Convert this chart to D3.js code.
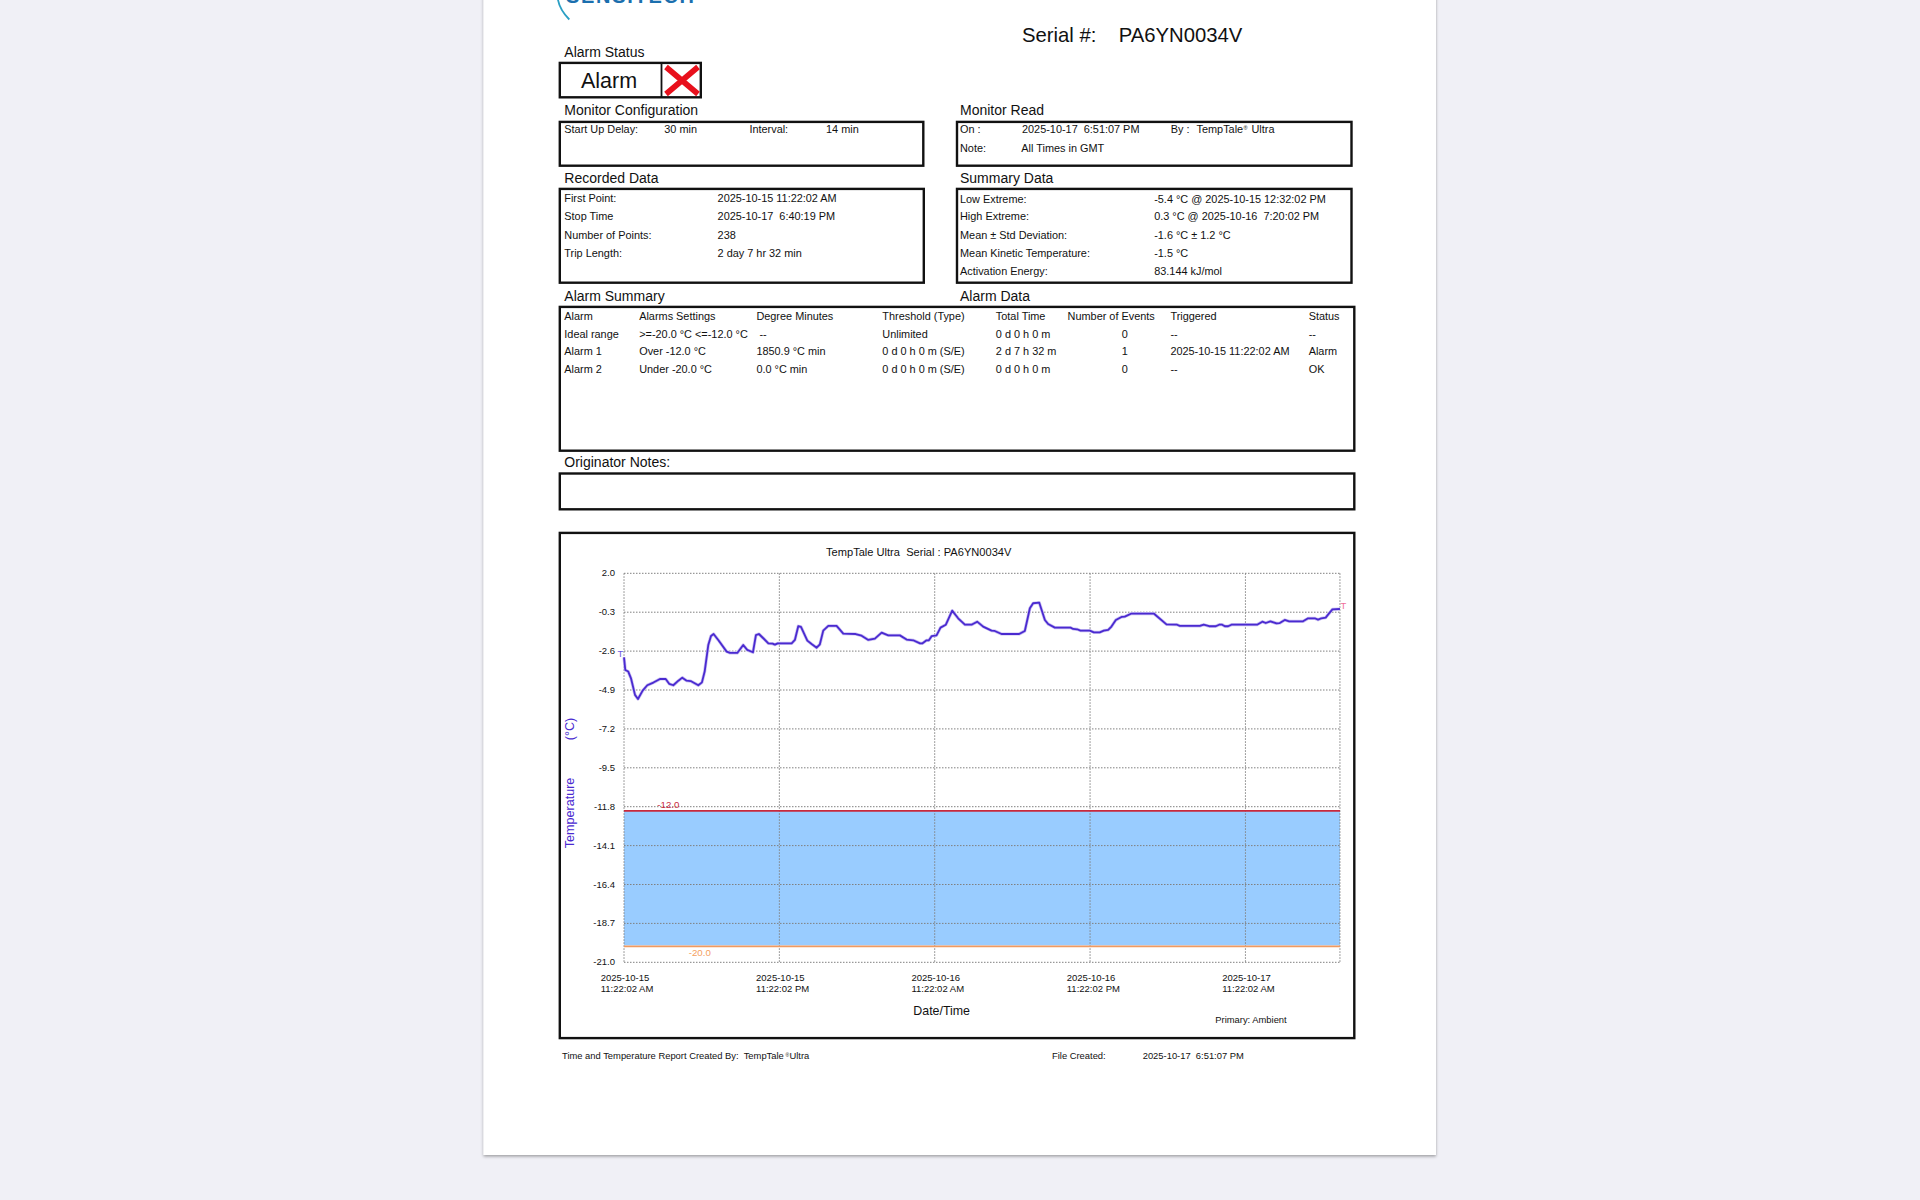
<!DOCTYPE html>
<html><head><meta charset="utf-8">
<script src="https://cdn.jsdelivr.net/npm/d3@7"></script>
<style>html,body{margin:0;padding:0;background:#f0f0f6;overflow:hidden}svg{display:block}text{font-family:"Liberation Sans",Arial,sans-serif;fill:#111}</style>
</head><body><svg id="c" width="1920" height="1200"></svg>
<script>
const startTime = new Date(Date.UTC(2025,9,15,11,22,2));
const stopTime = new Date(Date.UTC(2025,9,17,18,40,19));
const hours = [0,.10,.33,.54,.85,1.08,1.44,1.80,2.27,2.78,3.22,3.50,3.81,4.20,4.50,4.84,5.15,5.74,6.02,6.23,6.51,6.72,6.92,7.28,7.93,8.19,8.75,9.21,9.52,9.96,10.19,10.42,10.76,11.15,11.48,11.66,11.87,12.95,13.20,13.46,13.67,14.16,14.49,14.88,15.13,15.39,15.78,16.42,16.94,17.89,18.35,18.87,19.38,19.90,20.41,21.31,21.83,22.34,22.86,23.06,23.37,23.55,23.76,24.14,24.45,24.86,25.35,25.81,26.33,26.84,27.28,27.74,28.39,28.64,29.16,30.52,30.96,31.35,31.60,32.07,32.51,32.76,33.28,34.49,34.69,35.00,35.26,35.98,36.29,36.75,37.06,37.40,37.65,37.99,38.43,38.68,39.20,40.92,41.90,42.72,42.93,44.48,44.78,45.20,45.71,45.97,46.20,46.41,46.66,46.92,48.90,49.31,49.57,49.93,50.40,50.65,51.04,51.37,52.45,52.84,53.35,53.61,53.87,54.20,54.46,54.72,55.30];
const temps = [-2.97,-3.72,-3.81,-4.21,-5.19,-5.43,-4.94,-4.62,-4.46,-4.25,-4.25,-4.54,-4.62,-4.35,-4.17,-4.35,-4.37,-4.62,-4.45,-3.81,-2.24,-1.71,-1.59,-1.94,-2.63,-2.71,-2.71,-2.24,-2.53,-2.67,-1.65,-1.59,-1.84,-2.14,-2.16,-2.22,-2.14,-2.14,-1.94,-1.13,-1.17,-1.98,-2.18,-2.40,-2.20,-1.39,-1.11,-1.11,-1.57,-1.59,-1.69,-1.94,-1.86,-1.51,-1.67,-1.67,-1.92,-1.96,-2.14,-2.14,-1.96,-1.96,-1.72,-1.67,-1.21,-1.04,-0.21,-0.66,-1.04,-1.04,-0.86,-1.15,-1.39,-1.41,-1.59,-1.59,-1.41,-0.07,0.23,0.27,-0.76,-1.00,-1.21,-1.21,-1.29,-1.31,-1.39,-1.39,-1.49,-1.49,-1.39,-1.35,-1.15,-0.76,-0.58,-0.56,-0.38,-0.38,-1.02,-1.04,-1.11,-1.11,-1.04,-1.13,-1.13,-1.04,-1.04,-1.13,-1.13,-1.04,-1.04,-0.86,-0.94,-0.84,-0.96,-0.94,-0.76,-0.84,-0.84,-0.66,-0.66,-0.74,-0.66,-0.62,-0.37,-0.13,-0.11];
const yTicks = [2.0,-0.3,-2.6,-4.9,-7.2,-9.5,-11.8,-14.1,-16.4,-18.7,-21.0];
const xTickHours = [0,12,24,36,48];
const xTickDates = ["2025-10-15","2025-10-15","2025-10-16","2025-10-16","2025-10-17"];
const xTickTimes = ["11:22:02 AM","11:22:02 PM","11:22:02 AM","11:22:02 PM","11:22:02 AM"];
const alarmHigh = -12.0, alarmLow = -20.0;

const boxes = [[559.8,62.9,141,34.4],[559.8,121.9,363.5,43.8],[957,121.9,394.5,43.8],[559.8,188.9,364,93.8],[957,188.9,394.5,93.8],[559.8,306.9,794.5,143.8],[559.8,473.5,794.5,35.8],[559.8,532.9,794.5,505.2]];
const headings = [["Alarm Status",564.3,56.7],["Monitor Configuration",564.3,115],["Monitor Read",960,115],["Recorded Data",564.3,183],["Summary Data",960,183],["Alarm Summary",564.3,300.7],["Alarm Data",960,300.7],["Originator Notes:",564.3,466.9]];
const small = [
["Start Up Delay:",564.3,133],["30 min",664.3,133],["Interval:",749.4,133],["14 min",826,133],
["On :",960,133],["2025-10-17  6:51:07 PM",1022,133],["By :",1170.8,133],["Note:",960,152],["All Times in GMT",1021.3,152],
["First Point:",564.3,201.9],["2025-10-15 11:22:02 AM",717.6,201.9],["Stop Time",564.3,220],["2025-10-17  6:40:19 PM",717.6,220],["Number of Points:",564.3,238.7],["238",717.6,238.7],["Trip Length:",564.3,257],["2 day 7 hr 32 min",717.6,257],
["Low Extreme:",960,202.7],["-5.4 °C @ 2025-10-15 12:32:02 PM",1154.2,202.7],["High Extreme:",960,220],["0.3 °C @ 2025-10-16  7:20:02 PM",1154.2,220],["Mean ± Std Deviation:",960,238.7],["-1.6 °C ± 1.2 °C",1154.2,238.7],["Mean Kinetic Temperature:",960,257],["-1.5 °C",1154.2,257],["Activation Energy:",960,275],["83.144 kJ/mol",1154.2,275]
];
const colX = [564.3,639.2,756.4,882.3,995.8,1067.6,1170.4,1308.7];
const rowY = [319.9,337.7,355,373];
const tableRows = [
["Alarm","Alarms Settings","Degree Minutes","Threshold (Type)","Total Time","Number of Events","Triggered","Status"],
["Ideal range",">=-20.0 °C <=-12.0 °C"," --","Unlimited","0 d 0 h 0 m","0","--","--"],
["Alarm 1","Over -12.0 °C","1850.9 °C min","0 d 0 h 0 m (S/E)","2 d 7 h 32 m","1","2025-10-15 11:22:02 AM","Alarm"],
["Alarm 2","Under -20.0 °C","0.0 °C min","0 d 0 h 0 m (S/E)","0 d 0 h 0 m","0","--","OK"]
];

const svg = d3.select("#c");
const defs = svg.append("defs");
const f = defs.append("filter").attr("id","sh").attr("x","-5%").attr("y","-5%").attr("width","110%").attr("height","110%");
f.append("feDropShadow").attr("dx",0).attr("dy",1.5).attr("stdDeviation",1.5).attr("flood-color","#000").attr("flood-opacity",.35);
svg.append("rect").attr("x",483.5).attr("y",-10).attr("width",952.5).attr("height",1165).attr("fill","#fff").attr("filter","url(#sh)");

const txt = (g,s,x,y,fs,extra)=>{const t=g.append("text").attr("x",x).attr("y",y).attr("font-size",fs).attr("xml:space","preserve").style("white-space","pre").text(s);if(extra)extra(t);return t;};

svg.selectAll("rect.box").data(boxes).join("rect").attr("class","box")
 .attr("x",d=>d[0]).attr("y",d=>d[1]).attr("width",d=>d[2]).attr("height",d=>d[3])
 .attr("fill","none").attr("stroke","#111").attr("stroke-width",2.4);
svg.append("line").attr("x1",661.5).attr("x2",661.5).attr("y1",62.9).attr("y2",97.3).attr("stroke","#111").attr("stroke-width",1.8);

const page = svg.append("g");
txt(page,"Serial #:",1022,41.7,20.3);
txt(page,"PA6YN0034V",1118.7,41.7,20.3);
txt(page,"Alarm",581,88.3,21.5);
page.append("path").attr("d","M666 67 L698 94 M698 67 L666 94").attr("stroke","#e8101c").attr("stroke-width",5.6).attr("fill","none");
headings.forEach(h=>txt(page,h[0],h[1],h[2],14));
small.forEach(s=>txt(page,s[0],s[1],s[2],10.9));
txt(page,"TempTale",1196.5,133,10.9);
page.append("text").attr("x",1243.5).attr("y",129.5).attr("font-size",5.5).text("®");
txt(page,"Ultra",1251.5,133,10.9);
tableRows.forEach((r,i)=>r.forEach((c,j)=>{
  const t=txt(page,c,colX[j],rowY[i],10.9);
  if(j===5&&i>0) t.attr("x",1124.8).attr("text-anchor","middle");
}));

// logo fragment
page.append("path").attr("d","M557.7 -2 Q559 9 569.3 19.5").attr("fill","none").attr("stroke","#2a9fc4").attr("stroke-width",1.8);
txt(page,"SENSITECH",566,3,20,t=>t.attr("font-weight","bold").attr("textLength",128).style("fill","#1b6fae"));

// chart
const x = d3.scaleTime().domain([startTime,stopTime]).range([624,1340]);
const y = d3.scaleLinear().domain([-21,2]).range([962.3,573.3]);
const toDate = h=>new Date(startTime.getTime()+h*3600000);
const data = hours.map((h,i)=>({t:toDate(h),v:temps[i]}));

svg.append("rect").attr("x",x.range()[0]).attr("width",716).attr("y",y(alarmHigh)).attr("height",y(alarmLow)-y(alarmHigh)).attr("fill","#99ccff");

const grid = svg.append("g").attr("stroke","#808080").attr("stroke-width",1).attr("stroke-dasharray","1.5 1.5").attr("fill","none");
grid.selectAll("line.h").data(yTicks).join("line").attr("class","h").attr("x1",624).attr("x2",1340).attr("y1",d=>y(d)).attr("y2",d=>y(d));
grid.selectAll("line.v").data(xTickHours.concat([55.3])).join("line").attr("class","v").attr("x1",d=>x(toDate(d))).attr("x2",d=>x(toDate(d))).attr("y1",573.3).attr("y2",962.3);

svg.append("line").attr("x1",624).attr("x2",1340).attr("y1",y(alarmHigh)+.8).attr("y2",y(alarmHigh)+.8).attr("stroke","#c8283c").attr("stroke-width",1.8);
svg.append("line").attr("x1",624).attr("x2",1340).attr("y1",y(alarmLow)+1).attr("y2",y(alarmLow)+1).attr("stroke","#ef9a62").attr("stroke-width",1.8);
txt(svg,"-12.0",657.3,808,9.7,t=>t.style("fill","#c8283c"));
txt(svg,"-20.0",688.7,956,9.7,t=>t.style("fill","#f5a060"));

const line = d3.line().x(d=>x(d.t)).y(d=>y(d.v));
svg.append("path").datum(data).attr("d",line).attr("fill","none").attr("stroke","#c9bff2").attr("stroke-width",3.2).attr("stroke-linejoin","round");
svg.append("path").datum(data).attr("d",line).attr("fill","none").attr("stroke","#4a2ad0").attr("stroke-width",1.8).attr("stroke-linejoin","round");
txt(svg,"T",617.5,657,9.5,t=>t.style("fill","#6a5ae0"));
txt(svg,"T",1340.5,609,9.5,t=>t.style("fill","#f0709a"));

yTicks.forEach(v=>txt(svg,v.toFixed(1),615,y(v)+3,9.5,t=>t.attr("text-anchor","end")));
xTickHours.forEach((h,i)=>{
  const px=x(toDate(h));
  txt(svg,xTickDates[i],px-23.3,981,9.5);
  txt(svg,xTickTimes[i],px-23.3,992,9.5);
});
txt(svg,"TempTale Ultra  Serial : PA6YN0034V",826,556,11.1);
txt(svg,"Date/Time",913.3,1015,12.4);
txt(svg,"Primary: Ambient",1215.3,1023.3,9.4);
const rot=(s,cy)=>svg.append("text").attr("transform",`translate(574,${cy}) rotate(-90)`).attr("text-anchor","middle").attr("font-size",12.6).style("fill","#4a2ad0").text(s);
rot("Temperature",813);rot("(°C)",729);

txt(svg,"Time and Temperature Report Created By:  TempTale",562,1059.3,9.4);
svg.append("text").attr("x",785.5).attr("y",1056.5).attr("font-size",5).text("®");
txt(svg,"Ultra",789.5,1059.3,9.4);
txt(svg,"File Created:",1052,1059.3,9.4);
txt(svg,"2025-10-17  6:51:07 PM",1142.7,1059.3,9.4);
</script></body></html>
